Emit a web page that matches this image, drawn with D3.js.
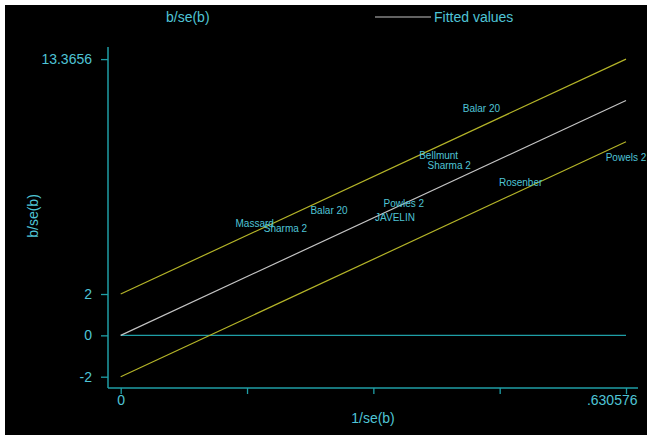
<!DOCTYPE html>
<html>
<head>
<meta charset="utf-8">
<script src="https://cdn.jsdelivr.net/npm/d3@7"></script>
<style>
  html, body { margin: 0; padding: 0; background: #fff; }
  svg { display: block; }
  text { font-family: "Liberation Sans", Arial, Helvetica, sans-serif; }
</style>
</head>
<body>
<svg id="chart" width="647" height="435"></svg>
<script>
// Study labels (truncated to 8 characters) and their Galbraith coordinates
const studies = ["Massard", "Sharma 2", "Balar 20", "Powles 2", "JAVELIN",
                 "Bellmunt", "Sharma 2", "Balar 20", "Rosenber", "Powels 2"];
const precision = [0.1672, 0.2056, 0.2600, 0.3533, 0.3423,
                   0.3968, 0.4099, 0.4502, 0.4991, 0.630576];   // 1/se(b)
const zscore    = [5.42, 5.15, 6.03, 6.36, 5.71,
                   8.68, 8.20, 10.99, 7.41, 8.60];              // b/se(b)

// Fitted line through the origin and the ±2 band
const xMax = 0.630576;
const slope = 18.0240;
const bandOffsets = [2, -2];

const xTicks = [0, xMax / 4, xMax / 2, 3 * xMax / 4, xMax];
const xTickLabels = ["0", "", "", "", ".630576"];
const yTicks = [-2, 0, 2, 13.3656];
const yTickLabels = ["-2", "0", "2", "13.3656"];

const textColor = "#4fc4d6";
const axisColor = "#1f9ea6";
const bandColor = "#b4b428";
const fitColor = "#c4c4c4";

const svg = d3.select("#chart");

// dark graph region
svg.append("rect").attr("x", 5).attr("y", 5).attr("width", 642).attr("height", 430)
  .attr("fill", "#000");

const x = d3.scaleLinear().domain([0, xMax]).range([120.7, 626]);
const y = d3.scaleLinear().domain([-2, 13.3656]).range([376.7, 59.1]);

const plotLeft = 108, plotRight = 638, plotTop = 47, plotBottom = 388;

// axes
const xAxis = d3.axisBottom(x).tickValues(xTicks).tickSize(6).tickPadding(3)
  .tickFormat((d, i) => xTickLabels[i]);
const gx = svg.append("g").attr("transform", `translate(0,${plotBottom})`).call(xAxis);
gx.select(".domain").remove();
gx.selectAll(".tick line").attr("stroke", axisColor).attr("stroke-width", 1.3);
gx.selectAll(".tick text").attr("fill", textColor).attr("font-size", 14).attr("dy", "0.55em");
gx.selectAll(".tick text").filter((d, i) => i === xTicks.length - 1)
  .attr("text-anchor", "end").attr("x", 11);

const yAxis = d3.axisLeft(y).tickValues(yTicks).tickSize(7).tickPadding(9)
  .tickFormat((d, i) => yTickLabels[i]);
const gy = svg.append("g").attr("transform", `translate(${plotLeft},0)`).call(yAxis);
gy.select(".domain").remove();
gy.selectAll(".tick line").attr("stroke", axisColor).attr("stroke-width", 1.3);
gy.selectAll(".tick text").attr("fill", textColor).attr("font-size", 14);

svg.append("line").attr("x1", plotLeft).attr("x2", plotRight)
  .attr("y1", plotBottom).attr("y2", plotBottom)
  .attr("stroke", axisColor).attr("stroke-width", 1.5);
svg.append("line").attr("x1", plotLeft).attr("x2", plotLeft)
  .attr("y1", plotTop).attr("y2", plotBottom)
  .attr("stroke", axisColor).attr("stroke-width", 1.5);

// axis titles
svg.append("text").attr("x", 373).attr("y", 418).attr("dy", "0.35em")
  .attr("text-anchor", "middle").attr("fill", textColor).attr("font-size", 14)
  .text("1/se(b)");
svg.append("text").attr("transform", "translate(33,216) rotate(-90)")
  .attr("dy", "0.35em").attr("text-anchor", "middle")
  .attr("fill", textColor).attr("font-size", 14).text("b/se(b)");

// zero reference line
svg.append("line").attr("x1", x(0)).attr("x2", x(xMax))
  .attr("y1", y(0)).attr("y2", y(0))
  .attr("stroke", axisColor).attr("stroke-width", 1.3);

// ±2 band
bandOffsets.forEach(b => {
  svg.append("line").attr("x1", x(0)).attr("y1", y(b))
    .attr("x2", x(xMax)).attr("y2", y(slope * xMax + b))
    .attr("stroke", bandColor).attr("stroke-width", 1.2);
});

// fitted values
svg.append("line").attr("x1", x(0)).attr("y1", y(0))
  .attr("x2", x(xMax)).attr("y2", y(slope * xMax))
  .attr("stroke", fitColor).attr("stroke-width", 1.2);

// study labels placed at each point
svg.append("g").selectAll("text").data(studies).join("text")
  .attr("x", (d, i) => x(precision[i]))
  .attr("y", (d, i) => y(zscore[i]))
  .attr("dy", "0.35em")
  .attr("text-anchor", "middle")
  .attr("fill", textColor).attr("font-size", 10)
  .text(d => d);

// legend
const leg = svg.append("g");
leg.append("text").attr("x", 166).attr("y", 17).attr("dy", "0.35em")
  .attr("fill", textColor).attr("font-size", 14).text("b/se(b)");
leg.append("line").attr("x1", 375).attr("x2", 431).attr("y1", 17).attr("y2", 17)
  .attr("stroke", fitColor).attr("stroke-width", 1.2);
leg.append("text").attr("x", 434).attr("y", 17).attr("dy", "0.35em")
  .attr("fill", textColor).attr("font-size", 14).text("Fitted values");
</script>
</body>
</html>
